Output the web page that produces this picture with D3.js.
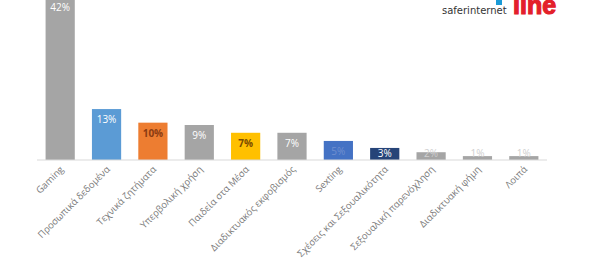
<!DOCTYPE html>
<html>
<head>
<meta charset="utf-8">
<script src="https://cdn.jsdelivr.net/npm/d3@7"></script>
<style>
  body { margin: 0; background: #fff; }
  svg { display: block; }
</style>
</head>
<body>
<svg id="chart" width="601" height="265"></svg>
<script>
//categories, values (percent) and bar colours
var categories = ["Gaming", "Προσωπικά δεδομένα", "Τεχνικά ζητήματα", "Υπερβολική χρήση",
                  "Παιδεία στα Μέσα", "Διαδικτυακός εκφοβισμός", "Sexting",
                  "Σχέσεις και Σεξουαλικότητα", "Σεξουαλική παρενόχληση", "Διαδικτυακή φήμη", "Λοιπά"];
var values = [42, 13.1, 9.6, 9.0, 7.0, 7.0, 4.9, 3.1, 2.0, 1.0, 1.0];
var colors = ["#A5A5A5", "#5B9BD5", "#ED7D31", "#A5A5A5", "#FFC000", "#A5A5A5",
              "#4472C4", "#264478", "#A5A5A5", "#A5A5A5", "#A5A5A5"];
var labelColors = ["#fff", "#fff", "#8a3b12", "#fff", "#7a4b00", "#fff",
                   "#6f8fcf", "#fff", "#d0d0d0", "#cfcfcf", "#cfcfcf"];

var svg = d3.select("#chart");

var x = d3.scaleBand()
          .domain(categories)
          .range([37, 547])
          .paddingInner(0.37)
          .paddingOuter(0.185);

var y = d3.scaleLinear()
          .domain([0, 45])
          .range([160, -15]);

//bars
svg.append("g").selectAll("rect")
   .data(values)
   .enter().append("rect")
   .attr("x", function(d, i){ return x(categories[i]); })
   .attr("y", function(d){ return y(d); })
   .attr("width", x.bandwidth())
   .attr("height", function(d){ return y(0) - y(d); })
   .style("fill", function(d, i){ return colors[i]; });

//baseline
svg.append("line")
   .attr("x1", 37).attr("x2", 547)
   .attr("y1", y(0)).attr("y2", y(0))
   .style("stroke", "#d9d9d9")
   .style("stroke-width", 1);

//value labels, inside the top of the bar (small bars push it up)
svg.append("g").selectAll("text")
   .data(values)
   .enter().append("text")
   .attr("x", function(d, i){ return x(categories[i]) + x.bandwidth() / 2; })
   .attr("y", function(d){ return Math.min(y(d) + 14, 157); })
   .attr("text-anchor", "middle")
   .style("font-family", "'Open Sans', sans-serif")
   .style("font-size", "10px")
   .style("font-weight", function(d, i){ return (i == 2 || i == 4) ? "bold" : "normal"; })
   .style("fill", function(d, i){ return labelColors[i]; })
   .text(function(d){ return Math.round(d) + "%"; });

//category labels, rotated 45 degrees
svg.append("g").selectAll("text")
   .data(categories)
   .enter().append("text")
   .attr("transform", function(d){
       return "translate(" + (x(d) + x.bandwidth() / 2 + 4) + ",170) rotate(-45)";
   })
   .attr("text-anchor", "end")
   .style("font-family", "'Open Sans', sans-serif")
   .style("font-size", "9.5px")
   .style("fill", "#7a7a7a")
   .text(function(d){ return d; });

//logo at top right
var logo = svg.append("g");
logo.append("rect")
    .attr("x", 496).attr("y", 0)
    .attr("width", 6).attr("height", 5)
    .style("fill", "#1a9ad6");
logo.append("text")
    .attr("x", 442).attr("y", 14)
    .style("font-family", "'DejaVu Sans', sans-serif")
    .style("font-size", "10px")
    .style("fill", "#333")
    .text("saferinternet");
logo.append("text")
    .attr("x", 513).attr("y", 14)
    .style("font-family", "'Liberation Sans', sans-serif")
    .style("font-size", "25px")
    .style("font-weight", "bold")
    .style("fill", "#e3202a")
    .style("stroke", "#e3202a")
    .style("stroke-width", 1.2)
    .text("line");
</script>
</body>
</html>
